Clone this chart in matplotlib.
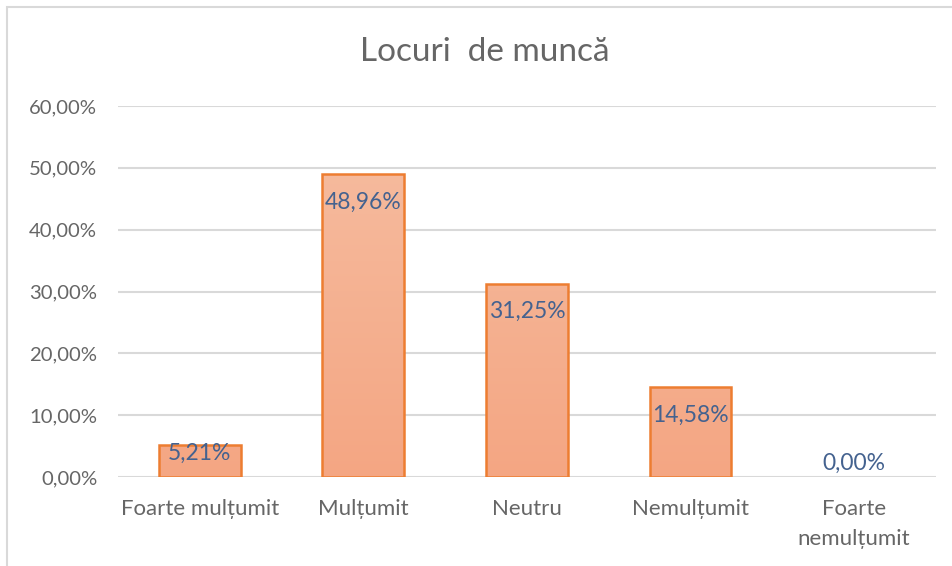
import numpy as np
import matplotlib
matplotlib.use("Agg")
import matplotlib.pyplot as plt
from matplotlib.colors import LinearSegmentedColormap
from matplotlib.patches import Rectangle

categories = ["Foarte mulțumit", "Mulțumit", "Neutru", "Nemulțumit", "Foarte\nnemulțumit"]
values = [5.21, 48.96, 31.25, 14.58, 0.00]
value_labels = ["5,21%", "48,96%", "31,25%", "14,58%", "0,00%"]
yticks = [0, 10, 20, 30, 40, 50, 60]
ytick_labels = ["0,00%", "10,00%", "20,00%", "30,00%", "40,00%", "50,00%", "60,00%"]

plt.rcParams['font.family'] = ['Lato', 'DejaVu Sans']

fig = plt.figure(figsize=(9.53, 5.66), dpi=100)
ax = fig.add_axes([0.1238, 0.157, 0.8582, 0.6557])

# light frame around the chart area
fig.patches.append(Rectangle((7 / 953, -0.1), 1.2, 1 - 7 / 566 + 0.1, transform=fig.transFigure,
                             fill=False, edgecolor='#D9D9D9', linewidth=1.5))

x = np.arange(len(categories))
bars = ax.bar(x, values, width=0.5, color='none', edgecolor='#ED7D31', linewidth=1.8, zorder=3)

# vertical gradient fill, lighter at top
cmap = LinearSegmentedColormap.from_list('grad', ['#F4A683', '#F6BEA2'])
grad = np.linspace(0, 1, 256).reshape(-1, 1)
for b in bars:
    if b.get_height() <= 0:
        b.set_linewidth(0)
        continue
    x0, w, h = b.get_x(), b.get_width(), b.get_height()
    im = ax.imshow(grad, cmap=cmap, origin='lower', aspect='auto',
                   extent=[x0, x0 + w, 0, 60], zorder=2)
    im.set_clip_path(b)

ax.set_xlim(-0.5, len(categories) - 0.5)
ax.set_ylim(0, 60)
ax.set_yticks(yticks)
ax.set_yticklabels(ytick_labels, fontsize=14.6)
ax.set_xticks(x)
ax.set_xticklabels(categories, linespacing=1.6, fontsize=16)
ax.yaxis.grid(True, color='#D9D9D9', linewidth=1.5, zorder=0)
ax.set_axisbelow(True)
for s in ax.spines.values():
    s.set_visible(False)
ax.tick_params(axis='both', length=0, labelcolor='#666666')
ax.tick_params(axis='y', pad=15)
ax.tick_params(axis='x', pad=16)
for lbl in ax.get_xticklabels():
    lbl.set_verticalalignment('top')

# data labels at the inside end of each bar
for xi, v, txt in zip(x, values, value_labels):
    if v > 10:
        off = -28
    elif v > 0:
        off = -8
    else:
        off = 14
    ax.annotate(txt, (xi, v), xytext=(0, off * 0.72), textcoords='offset points',
                ha='center', va='center', fontsize=16.5, color='#44628F', zorder=5)

fig.text(0.509, 1 - 52 / 566, "Locuri  de muncă", ha='center', va='center',
         fontsize=24, color='#666666')

fig.savefig("out.png", dpi=100)
